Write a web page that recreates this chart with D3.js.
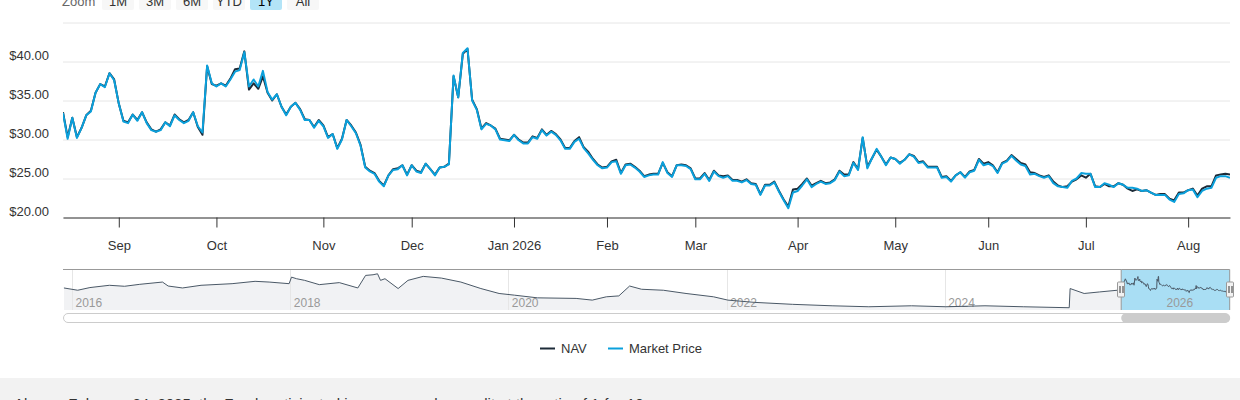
<!DOCTYPE html>
<html>
<head>
<meta charset="utf-8">
<script src="https://cdn.jsdelivr.net/npm/d3@7"></script>
<style>
  html, body { margin: 0; padding: 0; background: #ffffff; }
  #idMyCanvas { width: 1240px; height: 400px; }
  text { font-family: "Liberation Sans", Arial, Helvetica, sans-serif; }
</style>
</head>
<body>
<div id="idMyCanvas"></div>
<script>
// Data
// -------------------
let series_names = ["NAV", "Market Price"];
let range_buttons = ["1M", "3M", "6M", "YTD", "1Y", "All"];
let y_ticks = [20, 25, 30, 35, 40, 45];
let year_ticks = ["2016", "2018", "2020", "2022", "2024", "2026"];

// trading days of the 1Y window (weekdays minus exchange holidays)
let first_day = "2025-08-14";
let last_day = "2026-08-14";
let holidays = ["2025-09-01", "2025-11-27", "2025-12-25", "2026-01-01", "2026-01-19",
                "2026-02-16", "2026-04-03", "2026-05-25", "2026-06-19", "2026-07-03"];

let price_values = [
  33.4, 30.1, 32.8, 30.2, 31.5, 33.1, 33.6, 36.0, 37.1, 36.7,
  38.5, 37.6, 34.6, 32.3, 32.1, 33.2, 32.4, 33.5, 32.1, 31.2,
  31.0, 31.2, 32.2, 31.7, 33.1, 32.5, 32.1, 32.4, 33.5, 31.7,
  30.9, 39.5, 37.2, 36.8, 37.2, 36.8, 37.7, 38.7, 38.9, 41.2,
  36.8, 37.7, 36.8, 38.8, 36.1, 35.1, 35.8, 34.2, 33.1, 34.2,
  34.7, 33.8, 32.5, 32.5, 31.5, 32.4, 31.7, 30.2, 30.7, 28.8,
  30.0, 32.5, 31.7, 30.8, 29.2, 26.4, 25.9, 25.6, 24.6, 24.0,
  25.4, 26.1, 26.2, 26.7, 25.4, 26.7, 25.9, 25.7, 26.9, 26.2,
  25.4, 26.4, 26.5, 26.8, 38.2, 35.4, 41.1, 41.7, 35.0, 33.8,
  31.3, 32.0, 31.8, 31.3, 30.0, 29.9, 29.8, 30.6, 29.9, 29.5,
  29.5, 30.3, 30.1, 31.2, 30.5, 31.0, 30.6, 29.9, 28.8, 28.8,
  29.7, 30.1, 28.9, 28.2, 27.4, 26.7, 26.3, 26.4, 27.1, 27.2,
  25.6, 26.7, 26.8, 26.4, 25.9, 25.2, 25.4, 25.5, 25.5, 27.1,
  25.7, 25.2, 26.7, 26.7, 26.6, 26.2, 24.9, 24.9, 25.6, 24.7,
  25.9, 25.3, 25.1, 25.3, 24.7, 24.7, 24.5, 24.8, 24.3, 24.2,
  22.9, 24.1, 24.1, 24.5, 23.3, 22.2, 21.2, 23.2, 23.4, 24.1,
  24.9, 23.9, 24.3, 24.6, 24.3, 24.4, 24.8, 25.9, 25.3, 25.4,
  27.0, 26.1, 30.3, 26.3, 27.6, 28.8, 27.8, 26.7, 27.7, 27.5,
  26.9, 27.4, 28.1, 27.8, 27.0, 27.1, 26.4, 26.4, 26.4, 25.1,
  25.2, 24.6, 25.4, 25.8, 25.1, 25.8, 26.0, 27.4, 26.7, 26.9,
  26.6, 25.7, 26.9, 27.2, 27.9, 27.3, 26.8, 26.6, 25.5, 25.6,
  25.3, 25.1, 25.3, 24.4, 24.0, 23.9, 23.8, 24.7, 25.0, 25.7,
  25.6, 25.6, 23.9, 23.9, 24.4, 24.2, 23.9, 24.4, 24.2, 23.8,
  23.8, 23.7, 23.4, 23.5, 23.2, 22.9, 22.9, 22.9, 22.3, 22.0,
  23.0, 23.1, 23.5, 23.6, 22.6, 23.4, 23.7, 23.8, 25.1, 25.3,
  25.3, 25.1
];

let nav_values = [
  33.5, 30.3, 32.8, 30.3, 31.5, 33.1, 33.7, 36.0, 37.1, 36.8,
  38.5, 37.7, 34.6, 32.4, 32.2, 33.2, 32.5, 33.5, 32.2, 31.3,
  31.0, 31.3, 32.2, 31.8, 33.2, 32.6, 32.2, 32.5, 33.5, 31.6,
  30.6, 39.4, 37.1, 36.9, 37.2, 36.9, 37.8, 39.0, 39.1, 41.3,
  36.4, 37.2, 36.5, 38.1, 36.0, 35.0, 35.8, 34.2, 33.2, 34.2,
  34.7, 33.9, 32.6, 32.5, 31.6, 32.5, 31.8, 30.3, 30.7, 28.9,
  30.1, 32.5, 31.8, 30.9, 29.3, 26.5, 26.0, 25.7, 24.7, 24.1,
  25.4, 26.2, 26.3, 26.7, 25.5, 26.7, 26.0, 25.8, 26.9, 26.2,
  25.5, 26.4, 26.5, 26.9, 38.1, 35.4, 41.0, 41.6, 35.1, 33.9,
  31.4, 32.1, 31.8, 31.4, 30.1, 30.0, 29.9, 30.6, 30.0, 29.6,
  29.6, 30.4, 30.2, 31.3, 30.6, 31.1, 30.7, 30.0, 28.9, 28.9,
  29.8, 30.3, 29.0, 28.4, 27.5, 26.8, 26.4, 26.5, 27.2, 27.4,
  25.7, 26.8, 26.9, 26.5, 26.0, 25.3, 25.5, 25.6, 25.6, 27.0,
  25.8, 25.3, 26.7, 26.8, 26.7, 26.3, 25.0, 25.0, 25.7, 24.8,
  26.0, 25.4, 25.3, 25.4, 24.8, 24.8, 24.6, 24.9, 24.4, 24.3,
  23.0, 24.2, 24.2, 24.6, 23.4, 22.3, 21.4, 23.6, 23.7, 24.3,
  25.0, 24.1, 24.4, 24.7, 24.4, 24.5, 24.9, 26.0, 25.5, 25.5,
  27.1, 26.2, 30.2, 26.5, 27.6, 28.7, 27.8, 26.8, 27.7, 27.5,
  27.0, 27.4, 28.1, 27.9, 27.1, 27.2, 26.5, 26.5, 26.5, 25.2,
  25.3, 24.7, 25.4, 25.8, 25.2, 25.9, 26.1, 27.5, 26.9, 27.1,
  26.7, 25.8, 27.0, 27.3, 28.0, 27.5, 27.0, 26.8, 25.8, 25.7,
  25.4, 25.2, 25.4, 24.6, 24.1, 23.9, 24.0, 24.6, 24.9, 25.4,
  25.1, 25.6, 24.0, 23.9, 24.3, 24.0, 24.0, 24.4, 24.2, 23.7,
  23.4, 23.6, 23.4, 23.5, 23.2, 22.9, 23.0, 23.0, 22.4, 22.2,
  23.2, 23.2, 23.5, 23.7, 22.8, 23.7, 24.0, 24.0, 25.4, 25.5,
  25.6, 25.5
];

// navigator history before the 1Y window
let history_dates = [
  "2015-12-05", "2016-01-20", "2016-03-01", "2016-05-05", "2016-06-25", "2016-08-15",
  "2016-10-30", "2016-11-18", "2017-01-05", "2017-03-08", "2017-06-20", "2017-09-05",
  "2017-10-22", "2017-12-28", "2018-01-05", "2018-01-22", "2018-02-18", "2018-04-08",
  "2018-06-14", "2018-08-15", "2018-09-10", "2018-10-05", "2018-10-20", "2018-10-30",
  "2018-11-14", "2018-12-28", "2019-01-30", "2019-03-22", "2019-05-22", "2019-07-26",
  "2019-10-01", "2019-12-01", "2020-01-22", "2020-04-08", "2020-08-15", "2020-10-08",
  "2020-11-24", "2021-01-05", "2021-02-10", "2021-03-22", "2021-06-03", "2021-08-18",
  "2021-11-18", "2022-01-05", "2022-04-05", "2022-08-10", "2022-12-20", "2023-04-22",
  "2023-09-12", "2024-01-05", "2024-05-15", "2024-09-20", "2025-02-21", "2025-02-24",
  "2025-04-12", "2025-06-03", "2025-08-01"
];
let history_values = [
  27.2, 24.4, 27.7, 30.5, 29.3, 31.7,
  34.5, 29.6, 27.2, 30.5, 32.5, 35.4,
  34.5, 32.5, 40.6, 38.6, 36.6, 31.3,
  33.8, 27.2, 42.7, 43.5, 44.7, 36.6,
  38.6, 26.5, 36.6, 41.5, 39.4, 34.5,
  26.5, 20.4, 18.3, 15.0, 14.3, 12.2,
  16.3, 17.4, 29.6, 25.6, 24.4, 20.4,
  16.3, 12.2, 9.4, 7.0, 5.2, 4.0,
  5.2, 4.0, 5.2, 4.0, 2.8, 26.5,
  20.4, 22.3, 24.4
];

let footnote_text = "Also on February 24, 2025, the Fund participated in a reverse share split at the ratio of 1-for-10.";
// -------------------


// Canvas
// -------------------
let canvas_xn = 1240;
let canvas_yn = 400;

let svg_obj = d3.select("#idMyCanvas")
                .append("svg")
                  .attr("viewBox", [0, 0, canvas_xn, canvas_yn].join(" "))
                  .attr("width", canvas_xn)
                  .attr("height", canvas_yn)
                  .attr("xmlns", "http://www.w3.org/2000/svg");

let plot_x0 = 63;
let plot_xn = 1230;
let plot_y0 = 22.5;
let plot_yn = 217.5;

let text_color = "#333333";
let grid_color = "#e6e6e6";
let nav_color = "#1d2b38";
let price_color = "#0aa0dc";
// -------------------


// Dates and scales
// -------------------
let parse_day = d3.utcParse("%Y-%m-%d");
let fmt_day = d3.utcFormat("%Y-%m-%d");

let trade_dates = d3.utcDay.range(parse_day(first_day), d3.utcDay.offset(parse_day(last_day), 1))
                    .filter(d => d.getUTCDay() % 6 !== 0 && !holidays.includes(fmt_day(d)));

let n_pts = Math.min(trade_dates.length, price_values.length, nav_values.length);

let x_scale = d3.scaleLinear().domain([0, n_pts - 1]).range([plot_x0, plot_xn]);
let y_scale = d3.scaleLinear().domain([20, 45]).range([plot_yn, plot_y0]);
// -------------------


// Range selector
// -------------------
svg_obj.append("text")
  .attr("x", 62)
  .attr("y", 6)
  .attr("font-size", 13)
  .attr("fill", "#666666")
  .text("Zoom");

let btn_g = svg_obj.append("g");
range_buttons.forEach((lbl, i) => {
  let bx = 102 + i * 37;
  btn_g.append("rect")
    .attr("x", bx)
    .attr("y", -12)
    .attr("rx", 2)
    .attr("width", 32)
    .attr("height", 22)
    .attr("fill", lbl === "1Y" ? "#b3e4f7" : "#f7f7f7");
  btn_g.append("text")
    .attr("x", bx + 16)
    .attr("y", 6)
    .attr("text-anchor", "middle")
    .attr("font-size", 13)
    .attr("fill", lbl === "1Y" ? "#000000" : text_color)
    .text(lbl);
});
// -------------------


// Y axis & grid
// -------------------
let y_axis = d3.axisLeft(y_scale)
               .tickValues(y_ticks)
               .tickSize(-(plot_xn - plot_x0))
               .tickFormat(d => d === 45 ? "" : "$" + d.toFixed(2));

let y_axis_g = svg_obj.append("g")
  .attr("transform", "translate(" + plot_x0 + ",0)")
  .call(y_axis);
y_axis_g.select(".domain").remove();
y_axis_g.selectAll("line").attr("stroke", grid_color);
y_axis_g.selectAll("text")
  .attr("x", -14)
  .attr("dy", "-0.15em")
  .attr("font-size", 13)
  .attr("font-family", "\"Liberation Sans\", Arial, sans-serif")
  .attr("fill", text_color);
// -------------------


// X axis (ordinal trading days, ticks at first day of month)
// -------------------
let month_idx = d3.range(1, n_pts).filter(i => trade_dates[i].getUTCMonth() !== trade_dates[i - 1].getUTCMonth());
let month_fmt = d => d.getUTCMonth() === 0 ? d3.utcFormat("%b %Y")(d) : d3.utcFormat("%b")(d);

let x_axis = d3.axisBottom(x_scale)
               .tickValues(month_idx)
               .tickSize(10)
               .tickSizeOuter(0)
               .tickPadding(13)
               .tickFormat(i => month_fmt(trade_dates[i]));

let x_axis_g = svg_obj.append("g")
  .attr("transform", "translate(0," + plot_yn + ")")
  .call(x_axis);
x_axis_g.select(".domain").attr("stroke", text_color);
x_axis_g.selectAll("line").attr("stroke", text_color);
x_axis_g.selectAll("text")
  .attr("font-size", 13)
  .attr("font-family", "\"Liberation Sans\", Arial, sans-serif")
  .attr("fill", text_color);
// -------------------


// Lines
// -------------------
svg_obj.append("clipPath").attr("id", "plot_clip")
  .append("rect")
    .attr("x", plot_x0)
    .attr("y", plot_y0 - 5)
    .attr("width", plot_xn - plot_x0)
    .attr("height", plot_yn - plot_y0 + 5);

let line_gen = d3.line()
                 .x((d, i) => x_scale(i))
                 .y(d => y_scale(d));

let line_g = svg_obj.append("g").attr("clip-path", "url(#plot_clip)");

line_g.append("path")
  .attr("d", line_gen(nav_values.slice(0, n_pts)))
  .attr("fill", "none")
  .attr("stroke", nav_color)
  .attr("stroke-width", 2)
  .attr("stroke-linejoin", "round");

line_g.append("path")
  .attr("d", line_gen(price_values.slice(0, n_pts)))
  .attr("fill", "none")
  .attr("stroke", price_color)
  .attr("stroke-width", 2)
  .attr("stroke-linejoin", "round");
// -------------------


// Navigator
// -------------------
let nav_top = 269.5;
let nav_bot = 310;

let nx_scale = d3.scaleUtc()
                 .domain([parse_day("2016-01-01"), parse_day("2026-01-01")])
                 .range([72, 1163]);
let ny_scale = d3.scaleLinear().domain([0, 50]).range([nav_bot, nav_top]);

let nav_pts = history_dates.map((d, i) => [parse_day(d), history_values[i]])
                .concat(d3.range(n_pts).map(i => [trade_dates[i], nav_values[i]]));

svg_obj.append("clipPath").attr("id", "nav_clip")
  .append("rect")
    .attr("x", plot_x0)
    .attr("y", nav_top)
    .attr("width", plot_xn - plot_x0)
    .attr("height", nav_bot - nav_top);

let nav_g = svg_obj.append("g").attr("clip-path", "url(#nav_clip)");

let nav_area = d3.area()
                 .x(d => nx_scale(d[0]))
                 .y0(nav_bot)
                 .y1(d => ny_scale(d[1]));

nav_g.append("path")
  .attr("d", nav_area(nav_pts))
  .attr("fill", "#f1f2f4");

// year grid
year_ticks.forEach(yr => {
  let gx = Math.round(nx_scale(parse_day(yr + "-01-01"))) + 0.5;
  nav_g.append("line")
    .attr("x1", gx).attr("x2", gx)
    .attr("y1", nav_top).attr("y2", nav_bot)
    .attr("stroke", grid_color);
});

// selected range mask
let sel_x0 = nx_scale(trade_dates[0]);
let sel_x1 = nx_scale(trade_dates[n_pts - 1]);
nav_g.append("rect")
  .attr("x", sel_x0)
  .attr("y", nav_top)
  .attr("width", sel_x1 - sel_x0)
  .attr("height", nav_bot - nav_top)
  .attr("fill", "#a9def4");

year_ticks.forEach(yr => {
  let gx = nx_scale(parse_day(yr + "-01-01"));
  nav_g.append("text")
    .attr("x", gx + 3.5)
    .attr("y", 307)
    .attr("font-size", 12)
    .attr("fill", "#999999")
    .text(yr);
});

nav_g.append("path")
  .attr("d", d3.line().x(d => nx_scale(d[0])).y(d => ny_scale(d[1]))(nav_pts))
  .attr("fill", "none")
  .attr("stroke", "#4a5866")
  .attr("stroke-width", 1);

// outline
svg_obj.append("path")
  .attr("d", "M" + plot_x0 + "," + nav_top + " H" + sel_x0 + " V" + nav_bot + " M" + sel_x0 + "," + nav_top +
             " H" + (sel_x1 - 0.5) + " V" + nav_bot)
  .attr("fill", "none")
  .attr("stroke", "#999999")
  .attr("stroke-width", 1);

// handles
[sel_x0, sel_x1 - 0.5].forEach(hx => {
  let hg = svg_obj.append("g").attr("transform", "translate(" + (Math.round(hx) + 0.5) + ",282)");
  hg.append("rect")
    .attr("x", -4).attr("y", 0)
    .attr("width", 7).attr("height", 15)
    .attr("rx", 1)
    .attr("fill", "#f2f2f2")
    .attr("stroke", "#999999");
  hg.append("path")
    .attr("d", "M-1.5,4 V11 M1.5,4 V11")
    .attr("stroke", "#333333")
    .attr("stroke-width", 1);
});

// scrollbar
svg_obj.append("rect")
  .attr("x", plot_x0 + 0.5)
  .attr("y", 313.5)
  .attr("width", plot_xn - plot_x0 - 1)
  .attr("height", 9)
  .attr("rx", 4.5)
  .attr("fill", "#ffffff")
  .attr("stroke", "#cccccc");

svg_obj.append("rect")
  .attr("x", sel_x0)
  .attr("y", 313.5)
  .attr("width", sel_x1 - sel_x0)
  .attr("height", 9)
  .attr("rx", 4.5)
  .attr("fill", "#cccccc");
// -------------------


// Legend
// -------------------
let legend_items = [
  { name: series_names[0], color: nav_color, x: 540 },
  { name: series_names[1], color: price_color, x: 608 }
];
legend_items.forEach(it => {
  svg_obj.append("line")
    .attr("x1", it.x).attr("x2", it.x + 15)
    .attr("y1", 348.5).attr("y2", 348.5)
    .attr("stroke", it.color)
    .attr("stroke-width", 2);
  svg_obj.append("text")
    .attr("x", it.x + 21)
    .attr("y", 353)
    .attr("font-size", 13)
    .attr("fill", text_color)
    .text(it.name);
});
// -------------------


// Footnote band
// -------------------
svg_obj.append("rect")
  .attr("x", 0)
  .attr("y", 378)
  .attr("width", canvas_xn)
  .attr("height", canvas_yn - 378)
  .attr("fill", "#f2f2f2");

svg_obj.append("text")
  .attr("x", 14)
  .attr("y", 408.5)
  .attr("font-size", 15)
  .attr("fill", text_color)
  .text(footnote_text);
// -------------------
</script>
</body>
</html>
